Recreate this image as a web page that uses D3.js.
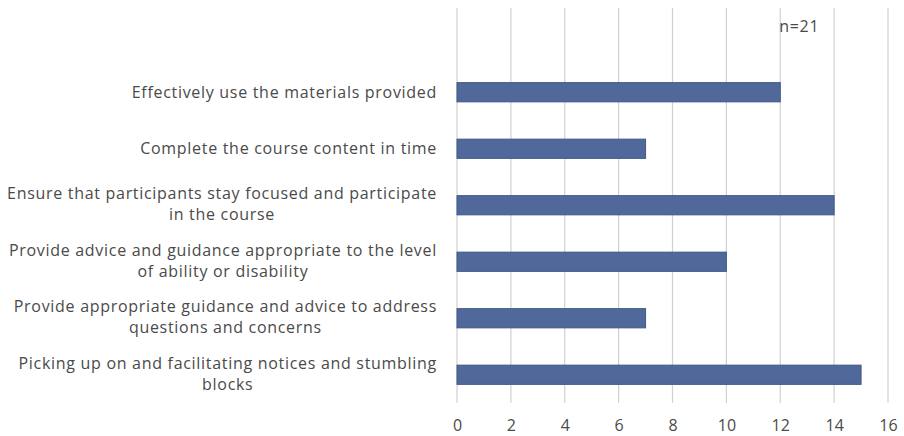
<!DOCTYPE html>
<html>
<head>
<meta charset="utf-8">
<script src="https://cdn.jsdelivr.net/npm/d3@7"></script>
<style>
  html, body { margin: 0; padding: 0; background: #fff; }
  svg { display: block; }
</style>
</head>
<body>
<svg id="chart" width="904" height="436"></svg>
<script>
// Survey responses: what trainers are able to do (n=21)
const categories = [
  "Effectively use the materials provided",
  "Complete the course content in time",
  "Ensure that participants stay focused and participate|in the course",
  "Provide advice and guidance appropriate to the level|of ability or disability",
  "Provide appropriate guidance and advice to address|questions and concerns",
  "Picking up on and facilitating notices and stumbling|blocks"
];
const values = [12, 7, 14, 10, 7, 15];
const tickValues = [0, 2, 4, 6, 8, 10, 12, 14, 16];
const note = "n=21";

const svg = d3.select("#chart");
const font = "'Open Sans', sans-serif";
const textColor = "#4a4a4a";
const spacing = "0.7px";

const plot = { left: 457, right: 888, top: 8, bottom: 403, bandTop: 64 };

const x = d3.scaleLinear().domain([0, 16]).range([plot.left, plot.right]);
const y = d3.scaleBand().domain(categories).range([plot.bandTop, plot.bottom]).paddingInner(0.66).paddingOuter(0.33);

// vertical gridlines
svg.append("g").selectAll("line").data(tickValues).join("line")
  .attr("x1", d => x(d)).attr("x2", d => x(d))
  .attr("y1", plot.top).attr("y2", plot.bottom)
  .attr("stroke", "#d0d0d0").attr("stroke-width", 1.2);

// bars
svg.append("g").selectAll("rect").data(categories).join("rect")
  .attr("x", x(0))
  .attr("y", d => y(d))
  .attr("width", (d, i) => x(values[i]) - x(0))
  .attr("height", y.bandwidth())
  .attr("fill", "#50699a")
  .attr("stroke", "#3f5887")
  .attr("stroke-width", 1);

// x tick labels
const xAxis = d3.axisBottom(x).tickValues(tickValues).tickSize(0).tickPadding(0);
const gx = svg.append("g").attr("transform", `translate(0, ${plot.bottom + 28})`).call(xAxis);
gx.select(".domain").remove();
gx.selectAll("text")
  .attr("font-family", font).attr("font-size", 16).attr("fill", textColor)
  .attr("dy", "0");

// category labels: right-aligned block, lines centred within it
const labelRight = 437;
const labels = svg.append("g");
categories.forEach(cat => {
  const lines = cat.split("|");
  const cy = y(cat) + y.bandwidth() / 2;
  const lineH = 21;
  const g = labels.append("g");
  const texts = lines.map((ln, i) => g.append("text")
    .attr("font-family", font).attr("font-size", 16).attr("fill", textColor)
    .attr("letter-spacing", spacing)
    .attr("text-anchor", "middle")
    .attr("dy", "0.35em")
    .attr("y", cy + (i - (lines.length - 1) / 2) * lineH + (lines.length > 1 ? -1 : 0))
    .text(ln));
  const maxW = d3.max(texts, t => t.node().getBBox().width);
  texts.forEach(t => t.attr("x", labelRight - maxW / 2));
});

// sample size note
svg.append("text")
  .attr("x", x(12) - 1).attr("y", 32)
  .attr("font-family", font).attr("font-size", 16).attr("fill", textColor)
  .attr("letter-spacing", spacing)
  .text(note);
</script>
</body>
</html>
